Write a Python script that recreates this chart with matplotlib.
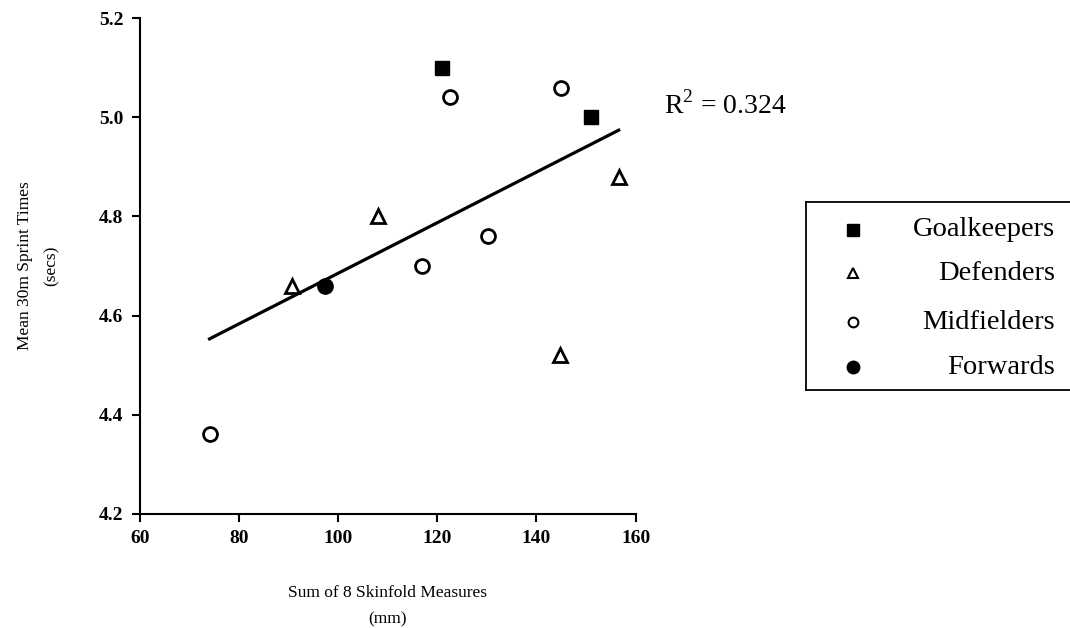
import numpy as np
import matplotlib
matplotlib.use("Agg")
import matplotlib.pyplot as plt

plt.rcParams['font.family'] = ['Liberation Serif', 'DejaVu Serif']
plt.rcParams['mathtext.fontset'] = 'custom'
plt.rcParams['mathtext.rm'] = 'Liberation Serif'

# ---- data ----
gk_x = [121.0, 151.0]
gk_y = [5.10, 5.00]
def_x = [90.6, 108.0, 156.6, 144.8]
def_y = [4.66, 4.80, 4.88, 4.52]
mid_x = [74.0, 122.5, 144.9, 116.8, 130.3]
mid_y = [4.36, 5.04, 5.06, 4.70, 4.76]
fwd_x = [97.3]
fwd_y = [4.66]
groups = ["Goalkeepers", "Defenders", "Midfielders", "Forwards"]
x_ticks = [60, 80, 100, 120, 140, 160]
y_ticks = [4.2, 4.4, 4.6, 4.8, 5.0, 5.2]
r2_label = r"R$^2$ = 0.324"

fig = plt.figure(figsize=(10.7, 6.28), dpi=100)
ax = fig.add_axes([0.131, 0.182, 0.463, 0.789])

ax.plot(gk_x, gk_y, ls='none', marker='s', ms=10, mfc='black', mec='black')
ax.plot(def_x, def_y, ls='none', marker='^', ms=10, mfc='white', mec='black', mew=2)
ax.plot(mid_x, mid_y, ls='none', marker='o', ms=10, mfc='white', mec='black', mew=2)
ax.plot(fwd_x, fwd_y, ls='none', marker='o', ms=11, mfc='black', mec='black')

all_x = np.array(gk_x + def_x + mid_x + fwd_x)
all_y = np.array(gk_y + def_y + mid_y + fwd_y)
slope, icpt = np.polyfit(all_x, all_y, 1)
xl = np.array([all_x.min(), all_x.max()])
ax.plot(xl, slope * xl + icpt, color='black', lw=2.3, zorder=1)

ax.set_xlim(60, 160)
ax.set_ylim(4.2, 5.2)
ax.set_xticks(x_ticks)
ax.set_yticks(y_ticks)
ax.set_xticklabels([str(v) for v in x_ticks], fontweight='bold', fontsize=14)
ax.set_yticklabels([f"{v:.1f}" for v in y_ticks], fontweight='bold', fontsize=14)
for s in ['top', 'right']:
    ax.spines[s].set_visible(False)
for s in ['left', 'bottom']:
    ax.spines[s].set_linewidth(1.5)
ax.tick_params(direction='out', length=6, width=1.5, pad=6)

ax.set_xlabel("Sum of 8 Skinfold Measures\n(mm)", fontsize=12.5, labelpad=27, linespacing=1.9)
ax.set_ylabel("Mean 30m Sprint Times\n(secs)", fontsize=12.5, labelpad=28, linespacing=1.9)

fig.text(0.621, 0.833, r2_label, fontsize=20, va='center', ha='left')

# legend box
lax = fig.add_axes([0.753, 0.379, 0.26, 0.30])
lax.set_xlim(0, 1)
lax.set_ylim(0, 1)
lax.set_xticks([])
lax.set_yticks([])
for s in lax.spines.values():
    s.set_linewidth(1.3)
ys = [0.85, 0.62, 0.36, 0.12]
lax.plot([0.17], [ys[0]], ls='none', marker='s', ms=8, mfc='black', mec='black')
lax.plot([0.17], [ys[1]], ls='none', marker='^', ms=7, mfc='white', mec='black', mew=1.5)
lax.plot([0.17], [ys[2]], ls='none', marker='o', ms=7, mfc='white', mec='black', mew=1.5)
lax.plot([0.17], [ys[3]], ls='none', marker='o', ms=9, mfc='black', mec='black')
for g, yv in zip(groups, ys):
    lax.text(0.895, yv, g, fontsize=20.5, ha='right', va='center')

fig.savefig("out.png", dpi=100)
